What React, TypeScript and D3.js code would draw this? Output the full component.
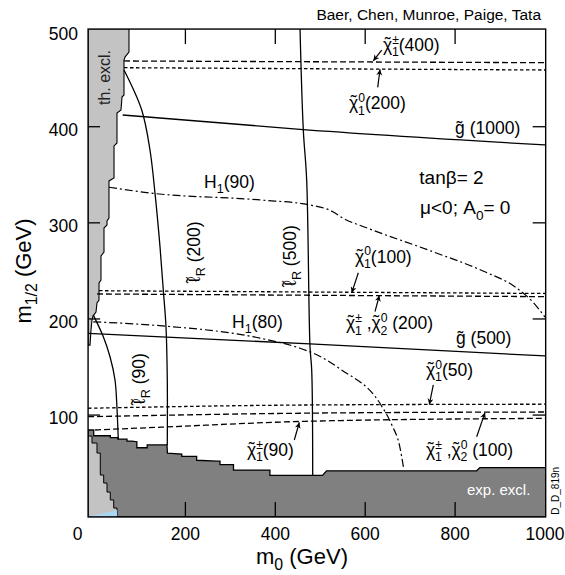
import React from 'react';
import * as d3 from 'd3';

type P = [number, number];

const FONT = "'Liberation Sans', Arial, Helvetica, sans-serif";

// ---------- axes ----------
const xTickValues = [200, 400, 600, 800];
const yTickValues = [100, 200, 300, 400];
const xTickLabels = [0, 200, 400, 600, 800, 1000];
const yTickLabels = [100, 200, 300, 400, 500];

// ---------- excluded regions (m0, m1/2) ----------
const theoryExclStrip: P[] = [
  [-16.5, 502], [74.5, 502], [74.5, 477.7], [65.6, 472.5], [63.4, 469.4], [63.4, 433],
  [59, 430.9], [56.7, 417.4], [47.8, 414.3], [47.8, 383.1], [41.2, 380], [41.2, 346.7],
  [30, 343.6], [30, 305], [25.6, 301.9], [25.6, 297.8], [18.9, 294.6], [18.9, 269.7],
  [12.2, 265.5], [12.2, 240.5], [7.8, 237.4], [7.8, 219.7], [3.3, 216.6], [1.1, 207.2],
  [-5.6, 203], [-7.8, 198.9], [-10, 188.5], [-12.2, 172.8], [-16.5, 172.8],
];
const theoryExclCorner: P[] = [
  [-16.5, 78.2], [-7.8, 78.2], [-7.8, 70.9], [3.3, 70.9], [3.3, 60.5], [10.7, 60.5],
  [10.7, 37.6], [18.2, 37.6], [18.2, 29.3], [25.6, 29.3], [25.6, 19.9], [32.9, 19.9],
  [32.9, 11.7], [40.5, 11.7], [40.5, 3.3], [47.8, 3.3], [47.8, -6], [-16.5, -6],
];
const blueWedge: P[] = [[-15, -5.6], [47.8, 1.2], [47.8, -5.6]];
const expExclTop: P[] = [
  [-16.5, 84.5], [-4, 84.5], [-4, 78.5], [33, 78.5], [33, 76.5], [50, 76.5], [50, 75],
  [70, 75], [70, 73], [81, 73], [92, 72.3], [92, 66], [115, 66], [115, 69], [159, 69],
  [160, 60.5], [192, 59.5], [192, 57], [225, 57], [225, 53], [270, 52], [277, 52],
  [277, 48.5], [307, 48.5], [307, 42.8], [388, 42.8], [388, 37.3], [505, 37.3], [514, 42],
  [848, 42], [855, 45.3], [1001.5, 45.3],
];

// ---------- contours ----------
const gluino1000: P[] = [[60.5, 412.2], [455, 397.3], [1000, 381]];
const gluino500: P[] = [[-16.5, 185.1], [477, 174], [1000, 161.5]];
const higgs90: P[] = [
  [30, 337], [128, 330.7], [366, 323.8], [477, 318.6], [528, 311.6], [550, 305], [603, 294.9],
  [751, 269.9], [862, 249.9], [937, 232.2], [973, 217.6], [1000, 202],
];
const higgs80: P[] = [
  [-5, 197], [143, 193], [366, 180], [455, 169.5], [500, 161], [544, 148], [633, 112],
  [659, 90], [677, 67], [685, 46],
];
const slepton90: P[] = [[-4.9, 204], [17.4, 181.5], [32.3, 160.7], [43.4, 136.5], [47.2, 112.6], [50.7, 74.5]];
const slepton200: P[] = [
  [63.4, 459], [102.8, 417.4], [121.2, 375.8], [132.4, 330.7], [143.5, 275.2], [150.8, 230.1],
  [156.8, 191.9], [159.7, 136.5], [159.7, 68.5],
];
const slepton500: P[] = [[455, 502], [462.3, 396.6], [469.8, 344.6], [477.2, 171.1], [481, 146.9], [483.2, 37.5]];
const chargino400: P[] = [[63.4, 468.4], [1001.5, 466.6]];
const neutralino200: P[] = [[63.4, 461.4], [1001.5, 459]];
const neutralino100: P[] = [[7.8, 229.4], [1001.5, 226.5]];
const chargino200: P[] = [[3.3, 226], [1001.5, 223.2]];
const neutralino50: P[] = [[-16.5, 107.1], [470, 110.5], [1001.5, 111.3]];
const chargino100: P[] = [[-16.5, 98.3], [470, 102], [1001.5, 103.2]];
const chargino90: P[] = [[-1, 84.5], [150, 87.5], [466, 93.5], [1001.5, 96.6]];

// ---------- annotations ----------
const arrows: [P, P][] = [
  [[636.7, 479.8], [618, 468.6]],
  [[627.8, 441], [633, 459.6]],
  [[584.7, 248.1], [570, 227.2]],
  [[621.8, 207.6], [631.4, 224.4]],
  [[751.5, 131.3], [742.6, 110.9]],
  [[848, 77.5], [866.5, 102.6]],
  [[442.3, 74.1], [453.4, 92.3]],
];

type Seg = { t: string; k?: 'sub' | 'ss' | 'til'; s2?: string; w?: number };
const chi: Seg = { t: '\u03C7', k: 'til', w: 0.52 };
const ell: Seg = { t: '\u2113', k: 'til', w: 0.44 };
const gt = 'g\u0303';

const labels: { at: P; segs: Seg[]; size?: number }[] = [
  { at: [639.6, 478.7], segs: [chi, { t: '±', k: 'ss', s2: '1' }, { t: '(400)' }] },
  { at: [564, 418.1], segs: [chi, { t: '0', k: 'ss', s2: '1' }, { t: '(200)' }] },
  { at: [800, 392.1], segs: [{ t: gt + ' (1000)' }] },
  { at: [720.4, 339.9], segs: [{ t: 'tanβ= 2' }], size: 19 },
  { at: [722, 308.7], segs: [{ t: 'μ<0; A' }, { t: '0', k: 'sub' }, { t: '= 0' }], size: 19 },
  { at: [577.3, 258.5], segs: [chi, { t: '0', k: 'ss', s2: '1' }, { t: '(100)' }] },
  { at: [557.3, 189.2], segs: [chi, { t: '±', k: 'ss', s2: '1' }, { t: ' ,' }, chi, { t: '0', k: 'ss', s2: '2' }, { t: ' (200)' }] },
  { at: [802, 173.6], segs: [{ t: gt + ' (500)' }] },
  { at: [735.3, 140.7], segs: [chi, { t: '0', k: 'ss', s2: '1' }, { t: '(50)' }] },
  { at: [735.3, 57.4], segs: [chi, { t: '±', k: 'ss', s2: '1' }, { t: ' ,' }, chi, { t: '0', k: 'ss', s2: '2' }, { t: ' (100)' }] },
  { at: [337, 57.4], segs: [chi, { t: '±', k: 'ss', s2: '1' }, { t: '(90)' }] },
  { at: [241.4, 336.6], segs: [{ t: 'H' }, { t: '1', k: 'sub' }, { t: '(90)' }] },
  { at: [303.7, 190.9], segs: [{ t: 'H' }, { t: '1', k: 'sub' }, { t: '(80)' }] },
];
const rotLabels: { at: P; segs: Seg[] }[] = [
  { at: [232.5, 237.4], segs: [ell, { t: 'R', k: 'sub' }, { t: ' (200)' }] },
  { at: [446, 233.4], segs: [ell, { t: 'R', k: 'sub' }, { t: ' (500)' }] },
  { at: [110, 110.5], segs: [ell, { t: 'R', k: 'sub' }, { t: ' (90)' }] },
];

function rich(segs: Seg[], size: number) {
  const out: React.ReactNode[] = [];
  let off = 0;
  let pend = 0;
  segs.forEach((s, i) => {
    if (!s.k) {
      out.push(<tspan key={i} dx={pend} dy={-off}>{s.t}</tspan>);
      off = 0; pend = 0;
    } else if (s.k === 'til') {
      const wc = (s.w ?? 0.5) * size, tw = 0.333 * size;
      out.push(<tspan key={i} dx={pend} dy={-off}>{s.t}</tspan>);
      out.push(<tspan key={i + 't'} dx={-(wc / 2 + tw / 2)} dy={-0.06 * size}>{'\u02DC'}</tspan>);
      off = -0.06 * size;
      pend = wc / 2 - tw / 2;
    } else if (s.k === 'sub') {
      const d = 0.28 * size;
      out.push(<tspan key={i} dx={pend} dy={d - off} fontSize={0.72 * size}>{s.t}</tspan>);
      off = d; pend = 0;
    } else {
      const up = -0.42 * size, dn = 0.3 * size, fs = 0.7 * size;
      out.push(<tspan key={i + 'a'} dx={pend} dy={up - off} fontSize={fs}>{s.t}</tspan>);
      out.push(<tspan key={i + 'b'} dx={-0.57 * fs * s.t.length} dy={dn - up} fontSize={fs}>{s.s2}</tspan>);
      off = dn; pend = 0;
    }
  });
  return out;
}

export default function App() {
  const W = 565, H = 575;
  const x = d3.scaleLinear().domain([0, 1000]).range([95.5, 545]);
  const y = d3.scaleLinear().domain([0, 500]).range([511.2, 30.6]);
  const X0 = x(-16.5), X1 = x(1001.5), Y0 = y(-6), Y1 = y(501.6);

  const lin = d3.line<P>().x(d => x(d[0])).y(d => y(d[1]));
  const smooth = d3.line<P>().x(d => x(d[0])).y(d => y(d[1])).curve(d3.curveMonotoneX);
  const vsmooth = d3.line<P>().x(d => x(d[0])).y(d => y(d[1])).curve(d3.curveCatmullRom.alpha(0.5));
  const poly = (pts: P[]) => lin(pts) + 'Z';
  const expPoly = poly([...expExclTop, [1001.5, -6], [-16.5, -6]]);

  const solid = { fill: 'none', stroke: '#000', strokeWidth: 1.3 };
  const longDash = { fill: 'none', stroke: '#000', strokeWidth: 1.3, strokeDasharray: '6,3' };
  const shortDash = { fill: 'none', stroke: '#000', strokeWidth: 1.3, strokeDasharray: '3.5,2.5' };
  const dashDot = { fill: 'none', stroke: '#000', strokeWidth: 1.2, strokeDasharray: '8,3,2,3' };

  return (
    <svg width={W} height={H} style={{ position: 'absolute', left: 0, top: 0, background: '#fff' }} fontFamily={FONT}>
      <defs>
        <clipPath id="plot"><rect x={X0} y={Y1} width={X1 - X0} height={Y0 - Y1} /></clipPath>
        <marker id="ah" viewBox="0 0 10 10" refX={10} refY={5} markerWidth={8} markerHeight={6}
          markerUnits="userSpaceOnUse" orient="auto">
          <path d="M0,0 L10,5 L0,10 L3,5 Z" fill="#000" />
        </marker>
      </defs>
      <rect x={0} y={0} width={W} height={H} fill="#fff" />

      <g clipPath="url(#plot)">
        <path d={expPoly} fill="#808080" stroke="#000" strokeWidth={1.3} />
        <path d={poly(theoryExclCorner)} fill="#c3c3c3" stroke="#000" strokeWidth={1} />
        <path d={poly(blueWedge)} fill="#aad8f2" stroke="none" />
        <path d={poly(theoryExclStrip)} fill="#c3c3c3" stroke="#000" strokeWidth={1.1} />

        <path d={smooth(gluino1000)!} {...solid} />
        <path d={smooth(gluino500)!} {...solid} />
        <path d={smooth(higgs90)!} {...dashDot} />
        <path d={smooth(higgs80)!} {...dashDot} />
        <path d={vsmooth(slepton90)!} {...solid} />
        <path d={vsmooth(slepton200)!} {...solid} />
        <path d={vsmooth(slepton500)!} {...solid} />
        <path d={lin(chargino400)!} {...longDash} />
        <path d={lin(neutralino200)!} {...shortDash} />
        <path d={lin(neutralino100)!} {...shortDash} />
        <path d={lin(chargino200)!} {...longDash} />
        <path d={smooth(neutralino50)!} {...shortDash} />
        <path d={smooth(chargino100)!} {...longDash} />
        <path d={smooth(chargino90)!} {...longDash} />

        {arrows.map((a, i) => (
          <line key={i} x1={x(a[0][0])} y1={y(a[0][1])} x2={x(a[1][0])} y2={y(a[1][1])}
            stroke="#000" strokeWidth={1.2} markerEnd="url(#ah)" />
        ))}
      </g>

      <rect x={X0} y={Y1} width={X1 - X0} height={Y0 - Y1} fill="none" stroke="#000" strokeWidth={1.4} />
      {xTickValues.map(v => (
        <g key={'xt' + v}>
          <line x1={x(v)} x2={x(v)} y1={Y0} y2={Y0 - 15} stroke="#000" strokeWidth={1.3} />
          <line x1={x(v)} x2={x(v)} y1={Y1} y2={Y1 + 15} stroke="#000" strokeWidth={1.3} />
        </g>
      ))}
      {yTickValues.map(v => (
        <g key={'yt' + v}>
          <line x1={X0} x2={X0 + 12} y1={y(v)} y2={y(v)} stroke="#000" strokeWidth={1.3} />
          <line x1={X1 - 13} x2={X1} y1={y(v)} y2={y(v)} stroke="#000" strokeWidth={1.3} />
        </g>
      ))}

      {xTickLabels.map(v => (
        <text key={'xl' + v} x={v === 0 ? x(v) - 18 : x(v)} y={540} fontSize={17.5} textAnchor="middle">{v}</text>
      ))}
      {yTickLabels.map(v => (
        <text key={'yl' + v} x={78} y={y(v) + 9} fontSize={17.5} textAnchor="end">{v}</text>
      ))}

      <text x={302} y={564} fontSize={22} textAnchor="middle">
        {rich([{ t: 'm' }, { t: '0', k: 'sub' }, { t: ' (GeV)' }], 22)}
      </text>
      <text transform="translate(31,271) rotate(-90)" fontSize={22} textAnchor="middle">
        {rich([{ t: 'm' }, { t: '1/2', k: 'sub' }, { t: ' (GeV)' }], 22)}
      </text>
      <text x={541} y={20} fontSize={15.5} textAnchor="end">Baer, Chen, Munroe, Paige, Tata</text>

      {labels.map((l, i) => (
        <text key={'lb' + i} x={x(l.at[0])} y={y(l.at[1])} fontSize={l.size ?? 17.5}>
          {rich(l.segs, l.size ?? 17.5)}
        </text>
      ))}
      {rotLabels.map((l, i) => (
        <text key={'rl' + i} transform={`translate(${x(l.at[0])},${y(l.at[1])}) rotate(-90)`} fontSize={17.5}>
          {rich(l.segs, 17.5)}
        </text>
      ))}
      <text transform={`translate(${x(32.3)},${y(451.2)}) rotate(-90)`} fontSize={16} fill="#222" textAnchor="middle">th. excl.</text>
      <text x={x(826.5)} y={y(16.9)} fontSize={15} fill="#fff">exp. excl.</text>
      <text transform={`translate(${x(1031)},${y(21.2)}) rotate(-90)`} fontSize={10} textAnchor="middle">D_D_819n</text>
    </svg>
  );
}
